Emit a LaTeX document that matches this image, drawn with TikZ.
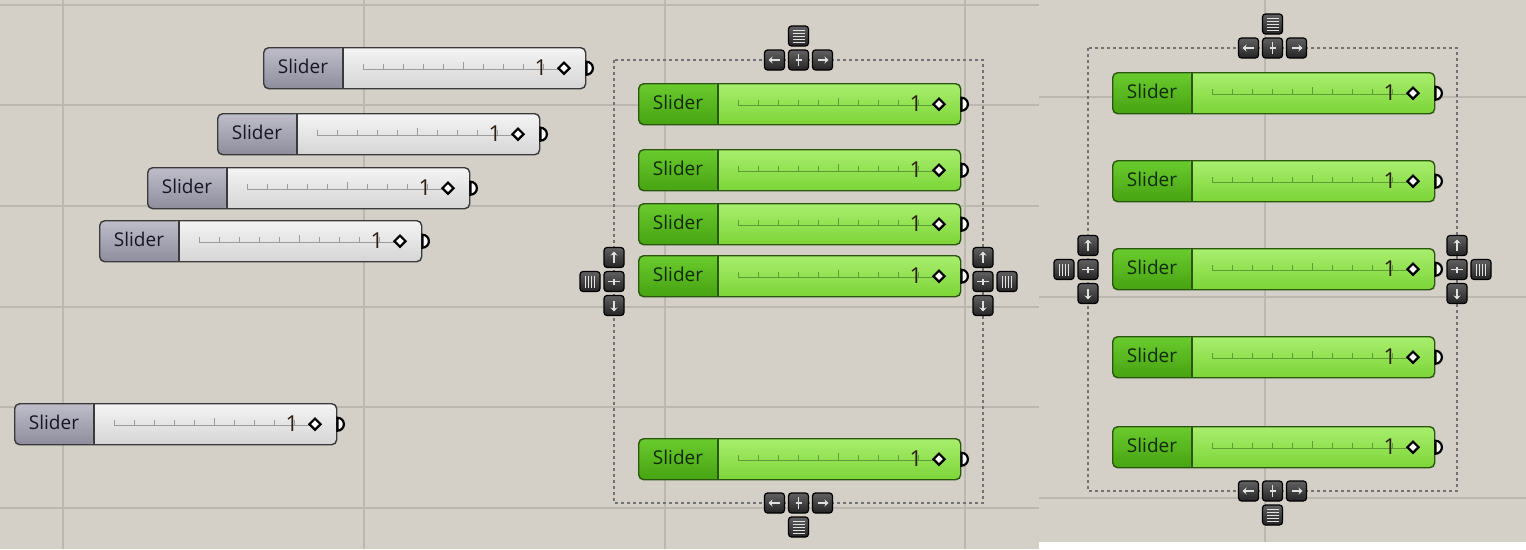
\documentclass[tikz,border=0pt]{standalone}
\usepackage{fontspec}
\setmainfont{Open Sans}
\usetikzlibrary{shapes.geometric,arrows.meta}

\definecolor{canvas}{HTML}{D4D0C8}
\definecolor{gridln}{HTML}{BCB8B0}
\definecolor{greyLabT}{HTML}{BEBDC9}
\definecolor{greyLabB}{HTML}{8E8D9D}
\definecolor{greyValT}{HTML}{F4F4F4}
\definecolor{greyValB}{HTML}{D5D5D5}
\definecolor{greyEdge}{HTML}{3A3A3A}
\definecolor{greyTxt}{HTML}{161626}
\definecolor{greyTick}{HTML}{9C9C9C}
\definecolor{greenLabT}{HTML}{6ACB2E}
\definecolor{greenLabB}{HTML}{47A312}
\definecolor{greenValT}{HTML}{A8EE6E}
\definecolor{greenValB}{HTML}{7CD537}
\definecolor{greenEdge}{HTML}{2A5710}
\definecolor{greenTxt}{HTML}{102A06}
\definecolor{greenTick}{HTML}{5E9C36}
\definecolor{valTxt}{HTML}{2E1E12}
\definecolor{btnT}{HTML}{616161}
\definecolor{btnB}{HTML}{242424}

\tikzset{
  body/.style={minimum width=322pt, minimum height=41pt, rounded corners=5pt,
    line width=1.4pt, inner sep=0pt, anchor=north west},
  greybody/.style={body, draw=greyEdge, top color=greyValT, bottom color=greyValB,
    path picture={\shade[top color=greyLabT,bottom color=greyLabB]
      (path picture bounding box.north west) rectangle ([xshift=80pt]path picture bounding box.south west);}},
  greenbody/.style={body, draw=greenEdge, top color=greenValT, bottom color=greenValB,
    path picture={\shade[top color=greenLabT,bottom color=greenLabB]
      (path picture bounding box.north west) rectangle ([xshift=80pt]path picture bounding box.south west);}},
  lbl/.style={font=\fontsize{19}{20}\selectfont, inner sep=0pt},
  num/.style={font=\fontsize{22}{24}\selectfont, inner sep=0pt},
  knob/.style={diamond, draw=black, fill=white, line width=2.2pt, minimum size=12pt, inner sep=0pt},
  btn/.style={draw=black, top color=btnT, bottom color=btnB, rounded corners=3pt,
    minimum size=20pt, inner sep=0pt, line width=1.2pt},
  sym/.style={draw=white!88!black, line width=1.3pt},
  frame/.style={draw=black!55, line width=1.6pt, dash pattern=on 3pt off 3pt},
  gridline/.style={draw=gridln, line width=1.6pt}
}

% one slider: name, left, top, grey|green
\newcommand{\slider}[4]{%
  \node[#4body] (#1) at (#2,#3) {};
  \draw[#4Edge, line width=1.2pt] ([xshift=80pt]#1.north west) -- ([xshift=80pt]#1.south west);
  \node[lbl, text=#4Txt] (#1-lbl) at ([xshift=40pt,yshift=1.5pt]#1.west) {Slider};
  \draw[#4Tick, line width=0.8pt] ([xshift=100pt,yshift=-1pt]#1.west) -- ([xshift=296pt,yshift=-1pt]#1.west);
  \foreach \t in {0,...,9}
    \draw[#4Tick, line width=0.8pt] ([xshift=100pt+\t*20pt,yshift=-1pt]#1.west) -- ++(0pt,5pt);
  \draw[#4Tick, line width=0.8pt] ([xshift=200pt,yshift=-1pt]#1.west) -- ++(0pt,7pt);
  \node[num, text=valTxt] (#1-val) at ([xshift=278pt,yshift=1pt]#1.west) {1};
  \node[knob] (#1-knob) at ([xshift=301pt]#1.west) {};
  \filldraw[fill=white, draw=black, line width=2.2pt]
    ([yshift=6.5pt]#1.east) arc[start angle=90, end angle=-90, radius=6.5pt] -- cycle;
}

% dotted frame with its four button clusters: name, x0, y0, x1, y1
\newcommand{\ctrlframe}[5]{%
  \pgfmathsetmacro\cx{(#2+#4)/2}
  \pgfmathsetmacro\cy{(#3+#5)/2}
  \draw[frame] (#2,#3) rectangle (#4,#5);
  % top and bottom
  \foreach \side/\yy/\mm in {t/#3/-24, b/#5/24} {
    \node[btn] (#1-\side l) at (\cx-24,\yy) {};
    \node[btn] (#1-\side c) at (\cx,\yy) {};
    \node[btn] (#1-\side r) at (\cx+24,\yy) {};
    \node[btn] (#1-\side m) at (\cx,\yy+\mm) {};
    \draw[sym,-{Stealth[length=4pt,width=7pt]}] ([xshift=5pt]#1-\side l.center) -- ([xshift=-6pt]#1-\side l.center);
    \draw[sym,-{Stealth[length=4pt,width=7pt]}] ([xshift=-5pt]#1-\side r.center) -- ([xshift=6pt]#1-\side r.center);
    \draw[sym] ([yshift=6pt]#1-\side c.center) -- ([yshift=-6pt]#1-\side c.center)
      ([xshift=-3pt]#1-\side c.center) -- ([xshift=3pt]#1-\side c.center);
    \foreach \k in {-6,-3,0,3,6}
      \draw[sym, line width=1pt] ([xshift=-6pt,yshift=\k pt]#1-\side m.center) -- ([xshift=6pt,yshift=\k pt]#1-\side m.center);
  }
  % left and right
  \foreach \side/\xx/\mm in {l/#2/-24, r/#4/24} {
    \node[btn] (#1-\side u) at (\xx,\cy-24) {};
    \node[btn] (#1-\side c) at (\xx,\cy) {};
    \node[btn] (#1-\side d) at (\xx,\cy+24) {};
    \node[btn] (#1-\side m) at (\xx+\mm,\cy) {};
    \draw[sym,-{Stealth[length=4pt,width=7pt]}] ([yshift=-5pt]#1-\side u.center) -- ([yshift=6pt]#1-\side u.center);
    \draw[sym,-{Stealth[length=4pt,width=7pt]}] ([yshift=5pt]#1-\side d.center) -- ([yshift=-6pt]#1-\side d.center);
    \draw[sym] ([xshift=-6pt]#1-\side c.center) -- ([xshift=6pt]#1-\side c.center)
      ([yshift=-3pt]#1-\side c.center) -- ([yshift=3pt]#1-\side c.center);
    \foreach \k in {-4.5,-1.5,1.5,4.5}
      \draw[sym, line width=1pt] ([xshift=\k pt,yshift=-6pt]#1-\side m.center) -- ([xshift=\k pt,yshift=6pt]#1-\side m.center);
  }
}

\begin{document}
\begin{tikzpicture}[x=1pt,y=-1pt]
  \useasboundingbox (0,0) rectangle (1526,549);
  % canvas, left shot
  \fill[canvas] (0,0) rectangle (1039,549);
  \foreach \gx in {63,364,665,965} \draw[gridline] (\gx,0) -- (\gx,549);
  \foreach \gy in {5,105,206,307,407,508} \draw[gridline] (0,\gy) -- (1039,\gy);
  % canvas, right shot
  \fill[canvas] (1039,0) rectangle (1526,542);
  \fill[white] (1039,542) rectangle (1526,549);
  \draw[gridline] (1265,0) -- (1265,542);
  \foreach \gy in {97,297,498} \draw[gridline] (1039,\gy) -- (1526,\gy);

  % loose sliders
  \slider{s1}{263}{47}{grey}
  \slider{s2}{217}{113}{grey}
  \slider{s3}{147}{167}{grey}
  \slider{s4}{99}{220}{grey}
  \slider{s5}{14}{403}{grey}

  % selected group before distributing
  \ctrlframe{fa}{614}{60}{983}{503}
  \slider{a1}{638}{83}{green}
  \slider{a2}{638}{149}{green}
  \slider{a3}{638}{203}{green}
  \slider{a4}{638}{255}{green}
  \slider{a5}{638}{438}{green}

  % after distributing
  \ctrlframe{fb}{1088}{48}{1457}{491}
  \slider{b1}{1112}{72}{green}
  \slider{b2}{1112}{160}{green}
  \slider{b3}{1112}{248}{green}
  \slider{b4}{1112}{336}{green}
  \slider{b5}{1112}{426}{green}
\end{tikzpicture}
\end{document}
